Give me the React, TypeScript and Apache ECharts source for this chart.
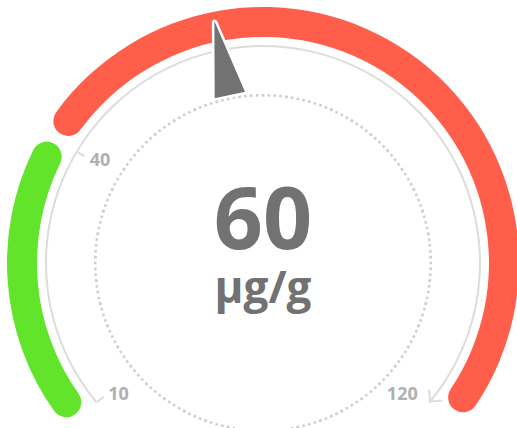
import React, { useEffect, useRef } from 'react';
import * as echarts from 'echarts';

// ---- data ----
const MIN = 10;
const MAX = 120;
const START_ANGLE = 220;
const END_ANGLE = -40;
const VALUE = 60;
const UNIT = 'µg/g';
const LABELED_TICKS = [10, 40, 120];
const MARKED_TICKS = [10, 40];
const ARROW_AT = 120;
const BAND_FROM = [12, 42.2];
const BAND_TO = [38, 117.4];
const BAND_COLORS = ['#62E42A', '#FF5F4A'];

// ---- styles ----
const CENTER: [number, number] = [263, 263];
const LINE_COLOR = '#dcdcdc';
const LABEL_COLOR = '#b0b0b0';
const TEXT_COLOR = '#727272';
const FONT = '"Open Sans", "Noto Sans", sans-serif';

const angleOf = (v: number) => START_ANGLE + ((v - MIN) / (MAX - MIN)) * (END_ANGLE - START_ANGLE);

const NEEDLE = 'path://M15.5,2 C16.3,0.2 17.7,0.2 18.5,2 L34,80 L0,80 Z';
const CHEVRON = 'path://M0,0 L10,10 L0,20 L0,17.2 L7.2,10 L0,2.8 Z';

function tickStops() {
  const eps = 0.01;
  const stops: [number, string][] = [];
  [...MARKED_TICKS].sort((a, b) => a - b).forEach((v) => {
    const p = (v - MIN) / (MAX - MIN);
    if (p > 0) stops.push([p - eps, 'rgba(0,0,0,0)']);
    stops.push([Math.min(1, p + eps), LINE_COLOR]);
  });
  stops.push([1, 'rgba(0,0,0,0)']);
  return stops;
}

const hidden = {
  axisTick: { show: false },
  splitLine: { show: false },
  axisLabel: { show: false },
  pointer: { show: false },
  anchor: { show: false },
  title: { show: false },
  detail: { show: false },
};

export default function App() {
  const ref = useRef<HTMLDivElement>(null);
  useEffect(() => {
    if (!ref.current) return;
    const chart = echarts.init(ref.current, undefined, { renderer: 'svg' });
    const bandSeries = BAND_FROM.map((from, i) => ({
      type: 'gauge',
      center: CENTER,
      radius: 256,
      startAngle: angleOf(from),
      endAngle: angleOf(BAND_TO[i]),
      min: 0,
      max: 1,
      axisLine: { show: true, roundCap: true, lineStyle: { width: 30, color: [[1, BAND_COLORS[i]]] } },
      ...hidden,
      data: [],
    }));
    const option: any = {
      animation: false,
      backgroundColor: '#ffffff',
      series: [
        {
          type: 'gauge',
          center: CENTER,
          radius: 170,
          startAngle: 90,
          endAngle: -270,
          min: 0,
          max: 1,
          splitNumber: 45,
          axisLine: { show: false, lineStyle: { width: 1 } },
          ...hidden,
          axisTick: { show: true, splitNumber: 4, length: 2.5, distance: 0, lineStyle: { width: 2.5, color: '#cdcdcd', cap: 'butt' } },
          data: [],
        },
        ...bandSeries,
        {
          type: 'gauge',
          center: CENTER,
          radius: 218,
          startAngle: START_ANGLE,
          endAngle: END_ANGLE,
          min: MIN,
          max: MAX,
          axisLine: { show: true, lineStyle: { width: 2, color: [[1, LINE_COLOR]] } },
          ...hidden,
          pointer: {
            show: true,
            icon: CHEVRON,
            width: 10,
            length: 20,
            offsetCenter: [-5, -207],
            itemStyle: { color: LINE_COLOR },
          },
          data: [{ value: ARROW_AT }],
        },
        {
          type: 'gauge',
          center: CENTER,
          radius: 218,
          startAngle: START_ANGLE,
          endAngle: END_ANGLE,
          min: MIN,
          max: MAX,
          splitNumber: 11,
          axisLine: { show: false, lineStyle: { width: 2, color: tickStops() } },
          ...hidden,
          splitLine: { show: true, length: 8, distance: 0, lineStyle: { width: 2, color: 'auto' } },
          axisLabel: {
            show: true,
            distance: 8,
            color: LABEL_COLOR,
            fontSize: 18,
            fontWeight: 'bold',
            fontFamily: FONT,
            formatter: (v: number) => (LABELED_TICKS.includes(Math.round(v)) ? String(Math.round(v)) : ''),
          },
          data: [],
        },
        {
          type: 'gauge',
          center: CENTER,
          radius: 218,
          startAngle: START_ANGLE,
          endAngle: END_ANGLE,
          min: MIN,
          max: MAX,
          axisLine: { show: false },
          ...hidden,
          pointer: {
            show: true,
            icon: NEEDLE,
            width: 34,
            length: 77,
            offsetCenter: [2, -170],
            itemStyle: { color: TEXT_COLOR, borderColor: '#ffffff', borderWidth: 2.5 },
          },
          detail: {
            show: true,
            offsetCenter: [0, -17],
            color: TEXT_COLOR,
            fontFamily: FONT,
            formatter: (v: number) => `{val|${v}}\n{unit|${UNIT}}`,
            rich: {
              val: { fontSize: 86, lineHeight: 80, fontWeight: 'bold', color: TEXT_COLOR, fontFamily: FONT },
              unit: { fontSize: 44, lineHeight: 62, fontWeight: 'bold', color: TEXT_COLOR, fontFamily: FONT },
            },
          },
          data: [{ value: VALUE, name: UNIT }],
        },
      ],
    };
    chart.setOption(option);
    return () => chart.dispose();
  }, []);
  return <div ref={ref} style={{ position: 'fixed', left: 0, top: 0, width: 517, height: 428 }} />;
}
